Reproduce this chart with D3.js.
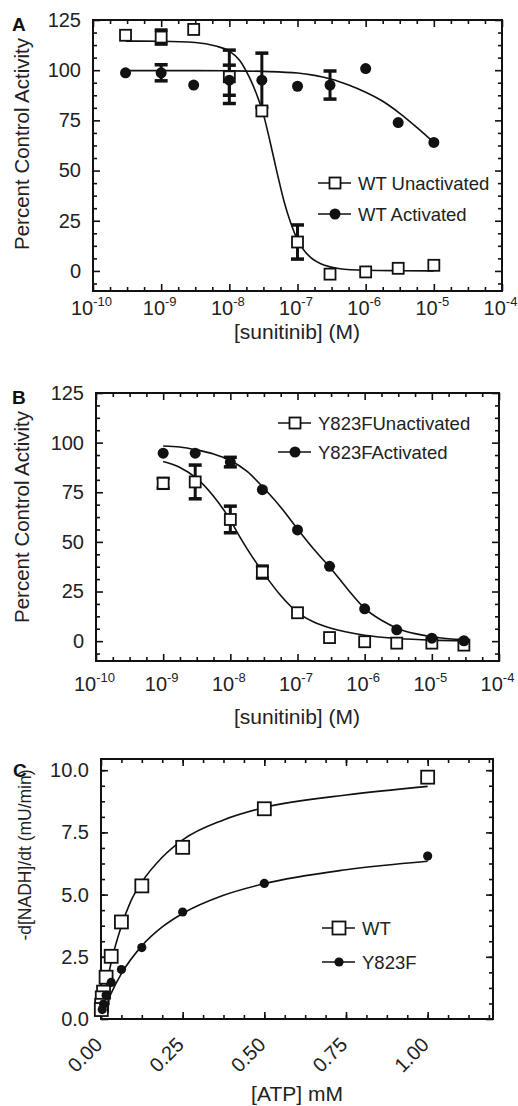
<!DOCTYPE html>
<html>
<head>
<meta charset="utf-8">
<script src="https://cdn.jsdelivr.net/npm/d3@7"></script>
<style>
body { margin: 0; background: #fff; }
svg { font-family: "Liberation Sans", Arial, Helvetica, sans-serif; }
</style>
</head>
<body>
<div id="chart"></div>
<script>
// ---- panel A : WT, sunitinib
var concA = [3e-10, 1e-9, 3e-9, 1e-8, 3e-8, 1e-7, 3e-7, 1e-6, 3e-6, 1e-5];
var wtUnact = [117.4, 116.5, 120.3, 96.7, 79.7, 14.4, -1.6, -0.5, 1.3, 2.8];
var wtUnactErr = [0, 3.5, 0, 13.3, 0, 8.5, 0, 0, 0, 0];
var wtAct = [98.7, 98.7, 92.6, 95, 95, 92, 92.6, 100.8, 73.9, 64];
var wtActErr = [0, 4, 0, 7.5, 13.5, 0, 7, 0, 0, 0];
// fitted lines (log10 conc, percent)
var fitWtUnactLog = [-9.52, -9, -8.5, -8.2, -8, -7.85, -7.7, -7.6, -7.5, -7.4, -7.3, -7.2, -7.1, -7, -6.9, -6.8, -6.6, -6.4, -6, -5.5, -5];
var fitWtUnact = [114.5, 114.4, 113.8, 112, 109.5, 105, 96, 88, 78, 64, 49, 35, 24, 15.5, 10, 6.5, 2.8, 1.2, 0.3, 0.1, 0];
var fitWtActLog = [-9.52, -9, -8.5, -8, -7.5, -7, -6.75, -6.5, -6.25, -6, -5.75, -5.5, -5.25, -5];
var fitWtAct = [99.8, 99.8, 99.8, 99.7, 99.4, 98.6, 97.4, 95.5, 92.6, 89, 84.5, 78.5, 71.5, 64];

// ---- panel B : Y823F, sunitinib
var concB = [1e-9, 3e-9, 1e-8, 3e-8, 1e-7, 3e-7, 1e-6, 3e-6, 1e-5, 3e-5];
var yfUnact = [79.5, 80.2, 61.3, 34.8, 14.3, 1.8, -0.3, -1, -1, -2];
var yfUnactErr = [2.5, 8.5, 6.7, 3, 0, 0, 0, 0, 0, 0];
var yfAct = [94.7, 94.7, 90.2, 76.3, 56, 37.7, 16.3, 5.7, 1.5, 0.2];
var yfActErr = [0, 0, 2.4, 0, 0, 0, 0, 0, 0, 0];
var fitYfUnactLog = [-9, -8.75, -8.5, -8.25, -8, -7.85, -7.75, -7.5, -7.25, -7, -6.75, -6.5, -6, -5.5, -5, -4.52];
var fitYfUnact = [90.5, 87.5, 82, 73, 61, 52, 46.5, 34, 23, 14.5, 9.5, 6.5, 3, 1.3, 0.5, 0.2];
var fitYfActLog = [-9, -8.75, -8.5, -8.25, -8, -7.75, -7.5, -7.25, -7, -6.75, -6.5, -6.25, -6, -5.75, -5.5, -5.25, -5, -4.75, -4.52];
var fitYfAct = [98.3, 97.8, 96.3, 94.3, 91, 85.5, 77, 67.5, 56.5, 46, 36.5, 26, 16.5, 10.5, 6.3, 3.8, 2.2, 1.2, 0.6];

// ---- panel C : ATP kinetics
var atpWt = [1, 0.5, 0.25, 0.125, 0.0625, 0.03125, 0.0156, 0.0078, 0.0039, 0.002, 0.001];
var rateWt = [9.72, 8.45, 6.9, 5.35, 3.9, 2.52, 1.68, 1.08, 0.85, 0.55, 0.38];
var atpYf = [1, 0.5, 0.25, 0.125, 0.0625, 0.03125, 0.0156, 0.0078, 0.0039];
var rateYf = [6.55, 5.45, 4.3, 2.87, 1.99, 1.47, 0.95, 0.6, 0.38];
var fitWtAtp = [0.001, 0.004, 0.008, 0.016, 0.031, 0.0625, 0.09, 0.125, 0.1875, 0.25, 0.375, 0.5, 0.75, 1.0];
var fitWtRate = [0.1, 0.36, 0.7, 1.3, 2.27, 3.74, 4.7, 5.5, 6.5, 7.2, 8.0, 8.5, 9.0, 9.35];
var fitYfAtp = [0.002, 0.004, 0.008, 0.016, 0.031, 0.0625, 0.125, 0.1875, 0.25, 0.375, 0.5, 0.75, 1.0];
var fitYfRate = [0.08, 0.15, 0.3, 0.57, 1.03, 1.82, 2.94, 3.7, 4.24, 4.97, 5.44, 6.0, 6.34];

var logTicks = [1e-10, 1e-9, 1e-8, 1e-7, 1e-6, 1e-5, 1e-4];
var pctTicks = [0, 25, 50, 75, 100, 125];
var atpTicks = [0, 0.25, 0.5, 0.75, 1.0];
var rateTicks = [0, 2.5, 5, 7.5, 10];

var legendA = ["WT Unactivated", "WT Activated"];
var legendB = ["Y823FUnactivated", "Y823FActivated"];
var legendC = ["WT", "Y823F"];

var svg = d3.select("#chart").append("svg")
    .attr("width", 518)
    .attr("height", 1106);

function frame(x, y, xMaj, xMin, yMaj, yMin) {
    var x0 = x.range()[0], x1 = x.range()[1];
    var y0 = y.range()[0], y1 = y.range()[1];
    var g = svg.append("g");
    [[xMaj, 7], [xMin, 4]].forEach(function(t) {
        g.append("g").attr("transform", "translate(0," + y0 + ")")
            .call(d3.axisBottom(x).tickValues(t[0]).tickSize(-t[1]).tickFormat(""));
        g.append("g").attr("transform", "translate(0," + y1 + ")")
            .call(d3.axisTop(x).tickValues(t[0]).tickSize(-t[1]).tickFormat(""));
    });
    [[yMaj, 7], [yMin, 4]].forEach(function(t) {
        g.append("g").attr("transform", "translate(" + x0 + ",0)")
            .call(d3.axisLeft(y).tickValues(t[0]).tickSize(-t[1]).tickFormat(""));
        g.append("g").attr("transform", "translate(" + x1 + ",0)")
            .call(d3.axisRight(y).tickValues(t[0]).tickSize(-t[1]).tickFormat(""));
    });
    g.selectAll(".domain").remove();
    g.selectAll(".tick line").attr("stroke", "#111").attr("stroke-width", 1.6);
    svg.append("rect")
        .attr("x", x0).attr("y", y1)
        .attr("width", x1 - x0).attr("height", y0 - y1)
        .attr("fill", "none").attr("stroke", "#111").attr("stroke-width", 2);

    var yl = svg.append("g").attr("transform", "translate(" + x0 + ",0)")
        .call(d3.axisLeft(y).tickValues(yMaj).tickSize(0).tickPadding(12));
    yl.select(".domain").remove();
    yl.selectAll("text").attr("font-size", 20).attr("fill", "#222")
        .style("font-family", "Liberation Sans, Arial, sans-serif");
    return yl;
}

function logLabels(x, y0, base) {
    var xl = svg.append("g").attr("transform", "translate(0," + y0 + ")")
        .call(d3.axisBottom(x).tickValues(logTicks).tickSize(0).tickFormat(""));
    xl.select(".domain").remove();
    xl.selectAll(".tick text")
        .attr("x", -2).attr("y", base).attr("dy", 0)
        .attr("fill", "#222")
        .style("font-family", "Liberation Sans, Arial, sans-serif")
        .each(function(d) {
            var t = d3.select(this);
            t.append("tspan").attr("font-size", 20).text("10");
            t.append("tspan").attr("font-size", 13).attr("dy", -9)
                .text(Math.round(Math.log10(d)));
        });
}

function minorLog(lo, hi) {
    var out = [];
    for (var e = lo; e < hi; e++) {
        for (var j = 1; j < 4; j++) out.push(Math.pow(10, e + j / 4));
    }
    return out;
}

function fitLine(x, y, xs, ys, isLog) {
    var pts = xs.map(function(v, i) { return [isLog ? Math.pow(10, v) : v, ys[i]]; });
    svg.append("path")
        .datum(pts)
        .attr("fill", "none")
        .attr("stroke", "#111")
        .attr("stroke-width", 1.6)
        .attr("d", d3.line()
            .x(function(d) { return x(d[0]); })
            .y(function(d) { return y(d[1]); })
            .curve(d3.curveMonotoneX));
}

function errBars(x, y, xs, ys, es) {
    var rows = xs.map(function(v, i) { return {x: v, y: ys[i], e: es[i]}; })
        .filter(function(d) { return d.e > 0; });
    var g = svg.append("g").attr("stroke", "#111");
    g.selectAll(".ev").data(rows).enter().append("line")
        .attr("x1", function(d) { return x(d.x); })
        .attr("x2", function(d) { return x(d.x); })
        .attr("y1", function(d) { return y(d.y - d.e); })
        .attr("y2", function(d) { return y(d.y + d.e); })
        .attr("stroke-width", 3);
    [-1, 1].forEach(function(s) {
        g.selectAll(".cap" + s).data(rows).enter().append("line")
            .attr("x1", function(d) { return x(d.x) - 6.5; })
            .attr("x2", function(d) { return x(d.x) + 6.5; })
            .attr("y1", function(d) { return y(d.y + s * d.e); })
            .attr("y2", function(d) { return y(d.y + s * d.e); })
            .attr("stroke-width", 3.5);
    });
}

function squares(x, y, xs, ys, size) {
    svg.append("g").selectAll("rect")
        .data(xs.map(function(v, i) { return [v, ys[i]]; }))
        .enter().append("rect")
        .attr("x", function(d) { return x(d[0]) - size / 2; })
        .attr("y", function(d) { return y(d[1]) - size / 2; })
        .attr("width", size).attr("height", size)
        .attr("fill", "#fff").attr("stroke", "#111").attr("stroke-width", 1.8);
}

function dots(x, y, xs, ys, r) {
    svg.append("g").selectAll("circle")
        .data(xs.map(function(v, i) { return [v, ys[i]]; }))
        .enter().append("circle")
        .attr("cx", function(d) { return x(d[0]); })
        .attr("cy", function(d) { return y(d[1]); })
        .attr("r", r).attr("fill", "#111");
}

function legend(names, lx, ly, gap, sq, r, fs) {
    names.forEach(function(name, i) {
        var cy = ly + i * gap;
        svg.append("line").attr("x1", lx - 17).attr("x2", lx + 16)
            .attr("y1", cy).attr("y2", cy)
            .attr("stroke", "#111").attr("stroke-width", 1.6);
        if (i === 0) {
            svg.append("rect").attr("x", lx - sq / 2).attr("y", cy - sq / 2)
                .attr("width", sq).attr("height", sq)
                .attr("fill", "#fff").attr("stroke", "#111").attr("stroke-width", 1.8);
        } else {
            svg.append("circle").attr("cx", lx).attr("cy", cy).attr("r", r).attr("fill", "#111");
        }
        svg.append("text").attr("x", lx + 23).attr("y", cy).attr("dy", "0.36em")
            .attr("font-size", fs).attr("fill", "#222").text(name);
    });
}

function title(txt, x, y, size, rotate) {
    var t = svg.append("text")
        .attr("font-size", size).attr("fill", "#222")
        .style("text-anchor", "middle")
        .text(txt);
    if (rotate) t.attr("transform", "rotate(-90)").attr("x", -y).attr("y", x);
    else t.attr("x", x).attr("y", y);
}

function letter(txt, x, y) {
    svg.append("text").attr("x", x).attr("y", y)
        .attr("font-size", 19).attr("font-weight", "bold").attr("fill", "#111").text(txt);
}

var pctMinor = d3.range(-6.25, 125, 6.25).filter(function(v) { return v % 25 !== 0; });

// ---------- A
var xA = d3.scaleLog().domain([1e-10, 1e-4]).range([93, 502]);
var yA = d3.scaleLinear().domain([-10, 125]).range([291, 20]);
frame(xA, yA, logTicks, minorLog(-10, -4), pctTicks, pctMinor);
logLabels(xA, 291, 24);
fitLine(xA, yA, fitWtUnactLog, fitWtUnact, true);
fitLine(xA, yA, fitWtActLog, fitWtAct, true);
errBars(xA, yA, concA, wtUnact, wtUnactErr);
errBars(xA, yA, concA, wtAct, wtActErr);
squares(xA, yA, concA, wtUnact, 11);
dots(xA, yA, concA, wtAct, 5.5);
legend(legendA, 335, 183, 31, 11, 5.5, 18.5);
title("[sunitinib] (M)", 297, 339, 21, false);
title("Percent Control Activity", 29, 144, 20.5, true);
letter("A", 12, 31);

// ---------- B
var xB = d3.scaleLog().domain([1e-10, 1e-4]).range([96, 499]);
var yB = d3.scaleLinear().domain([-10, 125]).range([661, 393]);
frame(xB, yB, logTicks, minorLog(-10, -4), pctTicks, pctMinor);
logLabels(xB, 661, 30);
fitLine(xB, yB, fitYfUnactLog, fitYfUnact, true);
fitLine(xB, yB, fitYfActLog, fitYfAct, true);
errBars(xB, yB, concB, yfUnact, yfUnactErr);
errBars(xB, yB, concB, yfAct, yfActErr);
squares(xB, yB, concB, yfUnact, 11);
dots(xB, yB, concB, yfAct, 5.5);
legend(legendB, 295, 423, 29, 11, 5.5, 18.5);
title("[sunitinib] (M)", 297, 724, 21, false);
title("Percent Control Activity", 29, 517, 20.5, true);
letter("B", 12, 404);

// ---------- C
var xC = d3.scaleLinear().domain([0, 1.2]).range([101, 493]);
var yC = d3.scaleLinear().domain([0, 10.45]).range([1019, 759]);
var ylC = frame(xC, yC, d3.range(0, 1.2, 0.25), d3.range(0.0625, 1.2, 0.0625),
    rateTicks, d3.range(0.625, 10.4, 0.625));
ylC.selectAll("text").text(function(d) { return d3.format(".1f")(d); });
var xlC = svg.append("g").attr("transform", "translate(0,1019)")
    .call(d3.axisBottom(xC).tickValues(atpTicks).tickSize(0).tickFormat(d3.format(".2f")));
xlC.select(".domain").remove();
xlC.selectAll("text")
    .attr("y", 0).attr("dy", 0)
    .attr("transform", "translate(2,27) rotate(-45)")
    .style("text-anchor", "end")
    .attr("font-size", 20).attr("fill", "#222")
    .style("font-family", "Liberation Sans, Arial, sans-serif");
fitLine(xC, yC, fitWtAtp, fitWtRate, false);
fitLine(xC, yC, fitYfAtp, fitYfRate, false);
squares(xC, yC, atpWt, rateWt, 13);
dots(xC, yC, atpYf, rateYf, 4.6);
legend(legendC, 339, 928, 34, 13, 4.6, 18.5);
title("[ATP] mM", 297, 1101, 21, false);
title("-d[NADH]/dt (mU/min)", 31, 855, 17.5, true);
letter("C", 13, 777);
</script>
</body>
</html>
